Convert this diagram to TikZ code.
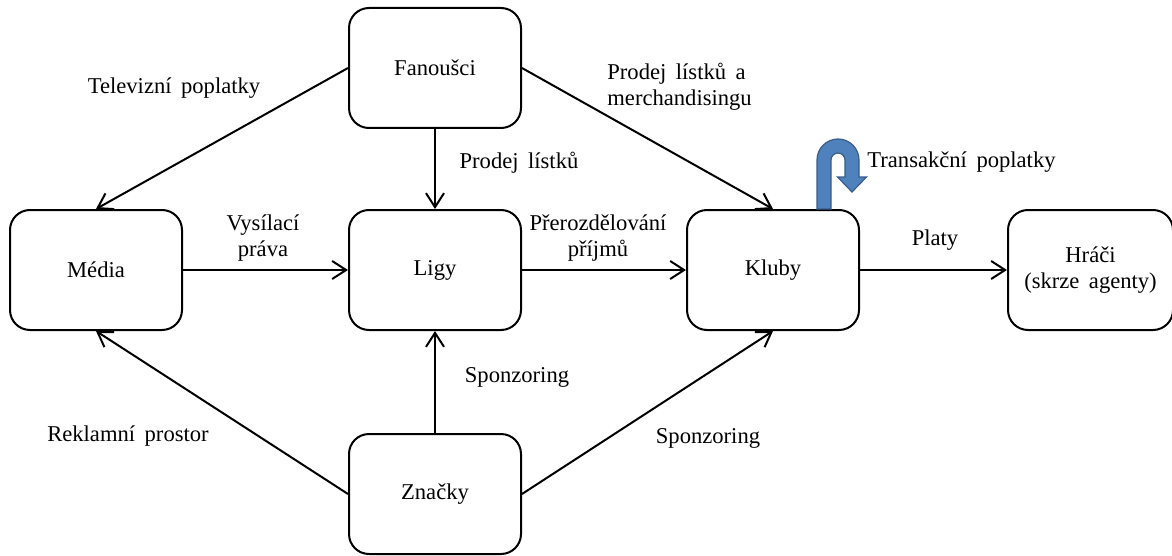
\documentclass[tikz,border=0pt]{standalone}
\usepackage{fontspec}
\setmainfont{Liberation Serif}
\usetikzlibrary{arrows.meta,positioning}
\newcommand\figfont{\fontsize{11.3}{13}\selectfont\spaceskip=0.42em\relax}

\begin{document}
\begin{tikzpicture}[x=0.5pt,y=-0.5pt,
      node distance=40pt and 82pt,
      box/.style={draw,line width=1pt,rounded corners=10pt,minimum width=86pt,
                  minimum height=60pt,align=center},
      lbl/.style={align=center,inner sep=1pt},
      flow/.style={->,line width=1pt},
      every node/.style={font=\figfont},
      >={Straight Barb[length=7pt,width=9pt]}]
    \useasboundingbox (0,0) rectangle (1172,556);
    \node[box] (ligy) at (435,270) {Ligy};
    \node[box,above=of ligy] (fans) {Fanoušci};
    \node[box,left=82.5pt of ligy] (media) {Média};
    \node[box,right=of ligy] (kluby) {Kluby};
    \node[box,right=73.5pt of kluby,minimum width=82.5pt] (hraci) {Hráči\\(skrze agenty)};
    \node[box,below=51pt of ligy] (znacky) {Značky};
    \draw[flow] (fans.west) -- (media.north);
    \draw[flow] (fans) -- (ligy);
    \draw[flow] (fans.east) -- (kluby.north);
    \draw[flow] (media) -- (ligy);
    \draw[flow] (ligy) -- (kluby);
    \draw[flow] (kluby) -- (hraci);
    \draw[flow] (znacky.west) -- (media.south);
    \draw[flow] (znacky) -- (ligy);
    \draw[flow] (znacky.east) -- (kluby.south);
    % transaction fees loop
    \begin{scope}[shift={(kluby.north)},x=1pt,y=1pt]
      \filldraw[fill={rgb,255:red,79;green,129;blue,189},draw={rgb,255:red,56;green,93;blue,138},line width=0.6pt]
        (22,0) -- (22,24.5) arc[start angle=180,end angle=0,radius=10.5]
        -- (43,16) -- (46.75,16) -- (39.5,8.5) -- (32.25,16) -- (36,16)
        -- (36,24.5) arc[start angle=0,end angle=180,radius=3.5] -- (29,0) -- cycle;
    \end{scope}
    % labels
    \node[lbl] (ltv) at (174,88) {Televizní poplatky};
    \node[lbl,anchor=west,align=left] (lmerch) at (605,87) {Prodej lístků a\\merchandisingu};
    \node[lbl] (llist) at (519,163) {Prodej lístků};
    \node[lbl,anchor=west] (ltrans) at (865,162) {Transakční poplatky};
    \node[lbl] (lvys) at (263,238) {Vysílací\\práva};
    \node[lbl] (lpre) at (598,238) {Přerozdělování\\příjmů};
    \node[lbl] (lplaty) at (935,240) {Platy};
    \node[lbl] (lspon) at (517,377) {Sponzoring};
    \node[lbl] (lrekl) at (128,436) {Reklamní prostor};
    \node[lbl] (lspon2) at (708,438) {Sponzoring};
  \end{tikzpicture}
\end{document}
